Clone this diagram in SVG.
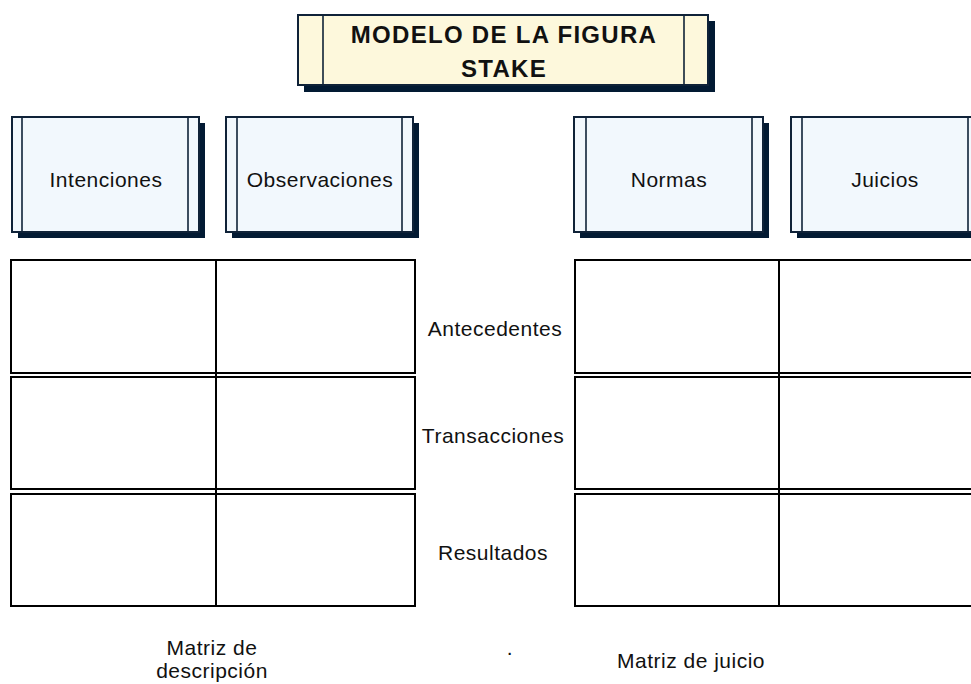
<svg xmlns="http://www.w3.org/2000/svg" width="971" height="684" viewBox="0 0 971 684">
<style>
.shadow{fill:#021a33}
.hdr{fill:#f2f8fd;stroke:#0f2238;stroke-width:2}
.ttl{fill:#fdf8dc;stroke:#0f2238;stroke-width:2}
.inner{stroke:#0f2238;stroke-width:1.6;fill:none}
.cell{fill:#ffffff;stroke:#000000;stroke-width:2}
.div{stroke:#000000;stroke-width:2}
.lbl{font-family:"Liberation Sans",Arial,sans-serif;font-size:21px;fill:#111111;text-anchor:middle;letter-spacing:0.5px}
.title{font-family:"Liberation Sans",Arial,sans-serif;font-size:24px;font-weight:bold;fill:#111111;text-anchor:middle;letter-spacing:1.3px}
</style>
<rect width="971" height="684" fill="#ffffff"/>

<g id="title">
<rect class="shadow" x="304" y="21" width="411" height="71"/>
<rect class="ttl" x="298" y="15" width="410" height="70"/>
<line class="inner" x1="323" y1="15" x2="323" y2="85"/>
<line class="inner" x1="684" y1="15" x2="684" y2="85"/>
<text class="title" x="504" y="43">MODELO DE LA FIGURA</text>
<text class="title" x="504" y="77">STAKE</text>
</g>

<g id="intenciones">
<rect class="shadow" x="18" y="123" width="187" height="115"/>
<rect class="hdr" x="12" y="117" width="187" height="115"/>
<line class="inner" x1="22" y1="117" x2="22" y2="232"/>
<line class="inner" x1="188" y1="117" x2="188" y2="232"/>
<text class="lbl" x="106" y="187">Intenciones</text>
</g>

<g id="observaciones">
<rect class="shadow" x="232" y="123" width="187" height="115"/>
<rect class="hdr" x="226" y="117" width="187" height="115"/>
<line class="inner" x1="237" y1="117" x2="237" y2="232"/>
<line class="inner" x1="402" y1="117" x2="402" y2="232"/>
<text class="lbl" x="320" y="187">Observaciones</text>
</g>

<g id="normas">
<rect class="shadow" x="580" y="123" width="189" height="115"/>
<rect class="hdr" x="574" y="117" width="189" height="115"/>
<line class="inner" x1="586" y1="117" x2="586" y2="232"/>
<line class="inner" x1="752" y1="117" x2="752" y2="232"/>
<text class="lbl" x="669" y="187">Normas</text>
</g>

<g id="juicios">
<rect class="shadow" x="797" y="123" width="189" height="115"/>
<rect class="hdr" x="791" y="117" width="189" height="115"/>
<line class="inner" x1="802" y1="117" x2="802" y2="232"/>
<line class="inner" x1="968" y1="117" x2="968" y2="232"/>
<text class="lbl" x="885" y="187">Juicios</text>
</g>

<g id="matriz-descripcion">
<rect class="cell" x="11" y="260" width="404" height="113"/>
<rect class="cell" x="11" y="377" width="404" height="112"/>
<rect class="cell" x="11" y="494" width="404" height="112"/>
<line class="div" x1="216" y1="260" x2="216" y2="606"/>
</g>

<g id="matriz-juicio">
<rect class="cell" x="575" y="260" width="410" height="113"/>
<rect class="cell" x="575" y="377" width="410" height="112"/>
<rect class="cell" x="575" y="494" width="410" height="112"/>
<line class="div" x1="779" y1="260" x2="779" y2="606"/>
</g>

<g id="labels">
<text class="lbl" x="495" y="336">Antecedentes</text>
<text class="lbl" x="493" y="443">Transacciones</text>
<text class="lbl" x="493" y="560">Resultados</text>
<text class="lbl" x="212" y="655">Matriz de</text>
<text class="lbl" x="212" y="678">descripción</text>
<text class="lbl" x="510" y="655">.</text>
<text class="lbl" x="691" y="668">Matriz de juicio</text>
</g>

<g id="connectors"></g>
</svg>
